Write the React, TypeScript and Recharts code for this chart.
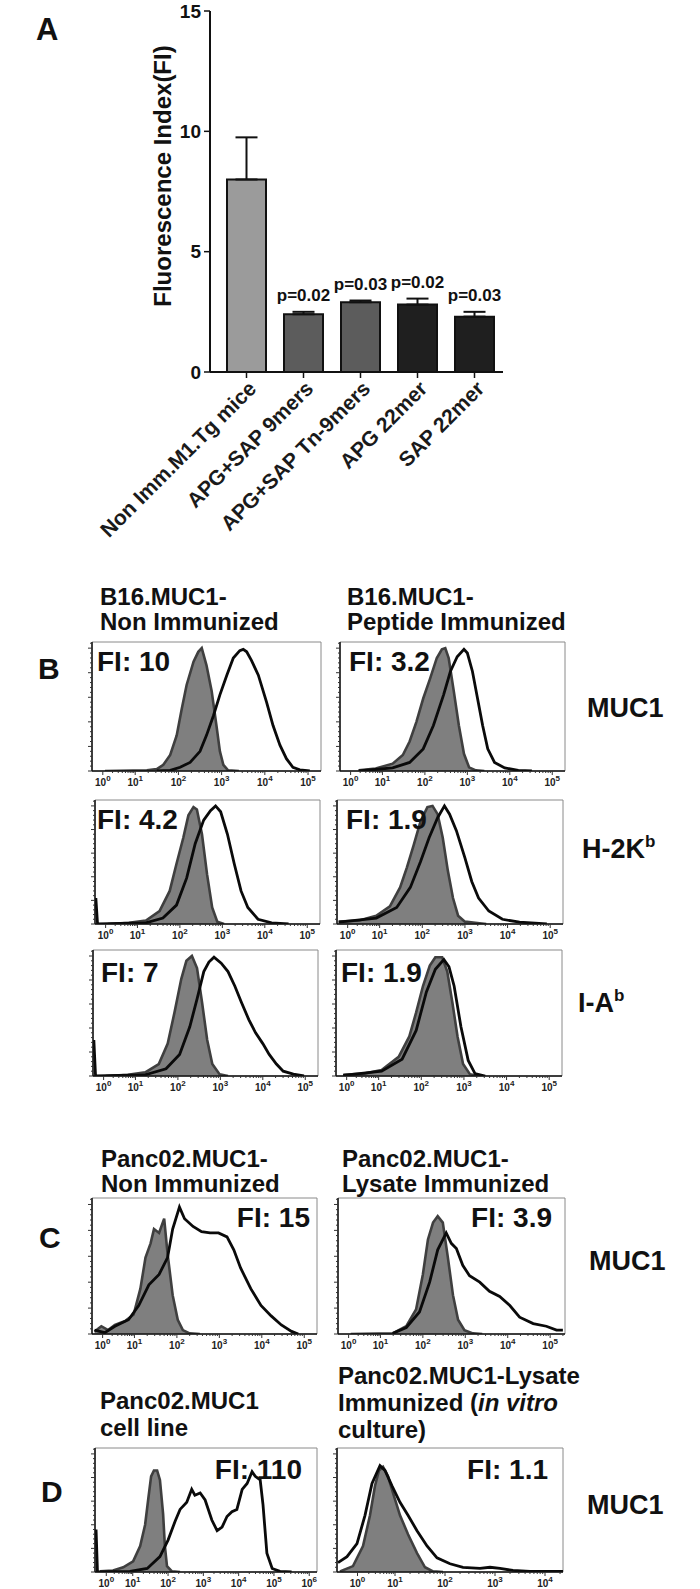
import React from 'react';
import {
  ComposedChart, Bar, Cell, ErrorBar, Line, LabelList, XAxis, YAxis, Area, ReferenceArea,
} from 'recharts';

const FONT = '"Liberation Sans", Arial, Helvetica, sans-serif';

// ---- panel A: fluorescence index per group
const groups = ['Non Imm.M1.Tg mice', 'APG+SAP 9mers', 'APG+SAP Tn-9mers', 'APG 22mer', 'SAP 22mer'];
const fiMean = [8.0, 2.4, 2.9, 2.8, 2.3];
const fiErr = [1.75, 0.1, 0.07, 0.25, 0.2];
const pLabels = ['', 'p=0.02', 'p=0.03', 'p=0.02', 'p=0.03'];
const fiTicks = [0, 5, 10, 15];
const barFills = ['#9b9b9b', '#5c5c5c', '#5c5c5c', '#1f1f1f', '#1f1f1f'];

// ---- flow histograms: [display position (decades), % of max]
const decadePos = [0.25, 1, 2, 3, 4, 5];
const decadeLbl = ['0', '1', '2', '3', '4', '5'];
const decadePosD1 = [0.25, 1, 2, 3, 4, 5, 6];
const decadeLblD1 = ['0', '1', '2', '3', '4', '5', '6'];
const decadePosD2 = [0.25, 1, 2, 3, 4];
const decadeLblD2 = ['0', '1', '2', '3', '4'];

const b16NonMuc1Iso = [[0.3, 0], [1.27, 0.5], [1.5, 1.5], [1.65, 5], [1.81, 13], [1.96, 29], [2.08, 51], [2.19, 70], [2.35, 89], [2.46, 97], [2.54, 100], [2.65, 86], [2.77, 65], [2.88, 37], [2.96, 16], [3.04, 5], [3.15, 0.5], [3.4, 0]];
const b16NonMuc1 = [[1.5, 0], [1.81, 0.5], [2.04, 3], [2.27, 7], [2.5, 16], [2.65, 29], [2.81, 45], [2.96, 62], [3.12, 78], [3.27, 92], [3.42, 98], [3.5, 99], [3.58, 97], [3.69, 90], [3.85, 78], [4.04, 56], [4.19, 37], [4.35, 21], [4.5, 10], [4.65, 3], [4.81, 1], [5.04, 0]];
const b16PepMuc1Iso = [[0.44, 0.5], [0.84, 2], [1.24, 6], [1.48, 13], [1.64, 24], [1.8, 40], [1.96, 59], [2.12, 75], [2.28, 92], [2.4, 99], [2.48, 100], [2.56, 92], [2.68, 65], [2.8, 37], [2.92, 14], [3.04, 3], [3.2, 0.5], [3.4, 0]];
const b16PepMuc1 = [[0.44, 0], [1.24, 2.5], [1.64, 7], [1.96, 18], [2.2, 37], [2.44, 62], [2.6, 81], [2.76, 93], [2.92, 99], [3.0, 96], [3.12, 81], [3.24, 59], [3.36, 37], [3.48, 18], [3.64, 7], [3.88, 2.5], [4.2, 0.5], [4.52, 0]];

const b16NonKbIso = [[0.3, 0], [0.8, 1], [1.2, 3], [1.52, 11], [1.76, 28], [1.92, 51], [2.08, 73], [2.2, 92], [2.32, 99], [2.4, 97], [2.52, 76], [2.64, 42], [2.76, 14], [2.88, 2], [3.04, 0]];
const b16NonKb = [[0.02, 22], [0.06, 0], [1.2, 1], [1.6, 5], [1.92, 16], [2.16, 39], [2.36, 68], [2.56, 88], [2.72, 96], [2.84, 100], [2.96, 95], [3.12, 76], [3.28, 51], [3.44, 28], [3.6, 14], [3.84, 4], [4.16, 1], [4.56, 0]];
const b16PepKbIso = [[0.04, 2], [0.52, 3], [0.92, 7], [1.24, 15], [1.48, 31], [1.64, 48], [1.8, 67], [1.96, 87], [2.12, 99], [2.24, 100], [2.36, 93], [2.48, 73], [2.6, 45], [2.72, 22], [2.84, 7], [3.0, 2], [3.24, 1], [3.5, 0]];
const b16PepKb = [[0.04, 1.5], [0.92, 5], [1.4, 14], [1.72, 31], [1.96, 53], [2.16, 73], [2.36, 90], [2.52, 100], [2.64, 93], [2.8, 79], [3.0, 56], [3.16, 36], [3.32, 22], [3.56, 11], [3.88, 4], [4.28, 1.5], [4.92, 0]];

const b16NonIaIso = [[0.3, 0], [0.82, 1], [1.23, 3], [1.55, 10], [1.76, 27], [1.92, 53], [2.08, 81], [2.2, 96], [2.33, 100], [2.45, 90], [2.57, 61], [2.69, 30], [2.81, 10], [2.98, 1.5], [3.18, 0]];
const b16NonIa = [[0.02, 30], [0.06, 0], [1.23, 1], [1.72, 6], [2.04, 18], [2.28, 41], [2.45, 64], [2.61, 87], [2.73, 95], [2.85, 99], [3.02, 94], [3.18, 87], [3.34, 75], [3.5, 61], [3.67, 47], [3.83, 36], [4.0, 27], [4.15, 18], [4.32, 10], [4.48, 4], [4.72, 1.5], [4.97, 0]];
const b16PepIaIso = [[0.17, 1], [0.66, 2], [1.07, 5], [1.47, 16], [1.72, 33], [1.88, 53], [2.04, 75], [2.2, 92], [2.33, 99], [2.49, 99], [2.61, 87], [2.73, 61], [2.85, 33], [2.98, 10], [3.14, 1.5], [3.34, 0]];
const b16PepIa = [[0.17, 0.5], [1.07, 4], [1.55, 14], [1.88, 38], [2.12, 70], [2.33, 89], [2.53, 97], [2.65, 91], [2.77, 75], [2.93, 41], [3.1, 13], [3.26, 2], [3.5, 0]];

const pancNonIso = [[0.06, 2], [0.22, 6], [0.38, 3], [0.54, 7], [0.78, 10], [0.98, 15], [1.14, 35], [1.26, 59], [1.38, 70], [1.46, 81], [1.58, 78], [1.7, 89], [1.78, 62], [1.9, 30], [2.02, 11], [2.14, 3], [2.3, 0.5], [2.54, 0]];
const pancNon = [[0.06, 3], [0.3, 1], [0.54, 6], [0.86, 11], [1.1, 22], [1.34, 38], [1.58, 46], [1.78, 59], [1.9, 81], [2.06, 98], [2.18, 89], [2.38, 83], [2.58, 79], [2.78, 78], [2.98, 78], [3.18, 75], [3.34, 65], [3.5, 51], [3.74, 35], [3.98, 22], [4.22, 14], [4.46, 7], [4.7, 2], [4.86, 0]];
const pancLysIso = [[0.3, 0], [1.29, 0.5], [1.61, 6], [1.84, 19], [2.0, 46], [2.12, 73], [2.24, 86], [2.35, 91], [2.47, 86], [2.59, 59], [2.71, 30], [2.83, 11], [2.98, 3], [3.18, 0.5], [3.4, 0]];
const pancLys = [[1.29, 0.5], [1.61, 5], [1.92, 17], [2.16, 40], [2.35, 65], [2.55, 78], [2.67, 70], [2.79, 66], [2.94, 53], [3.1, 45], [3.34, 40], [3.57, 33], [3.81, 29], [4.05, 22], [4.28, 13], [4.6, 8], [4.91, 6], [5.15, 3], [5.3, 3]];

const pancLineIso = [[0.07, 0.5], [0.44, 1.3], [0.73, 4], [1.01, 9], [1.21, 22], [1.35, 40], [1.44, 62], [1.52, 81], [1.6, 86], [1.69, 86], [1.77, 78], [1.86, 49], [1.91, 22], [1.97, 5], [2.11, 0.5], [2.34, 0]];
const pancLine = [[-0.04, 36], [0.0, 0], [0.92, 0.5], [1.41, 3], [1.77, 13], [2.0, 27], [2.2, 43], [2.34, 53], [2.53, 59], [2.67, 70], [2.76, 65], [2.91, 67], [3.05, 61], [3.24, 44], [3.39, 35], [3.53, 38], [3.67, 47], [3.81, 51], [3.95, 53], [4.1, 70], [4.24, 75], [4.38, 85], [4.47, 81], [4.61, 78], [4.69, 57], [4.8, 16], [4.95, 3], [5.17, 0.5], [5.5, 0]];
const pancVitroIso = [[-0.1, 0.5], [0.16, 5], [0.36, 22], [0.5, 48], [0.6, 73], [0.68, 86], [0.76, 89], [0.86, 81], [0.96, 67], [1.1, 48], [1.26, 32], [1.44, 16], [1.6, 4], [1.76, 0.5], [1.96, 0]];
const pancVitro = [[-0.14, 8], [0.04, 13], [0.24, 24], [0.4, 48], [0.54, 75], [0.7, 90], [0.8, 86], [0.94, 73], [1.1, 59], [1.26, 48], [1.44, 35], [1.64, 22], [1.84, 12], [2.1, 7], [2.36, 4], [2.7, 3], [2.9, 4], [3.1, 3], [3.36, 1.3], [3.7, 0.5], [4.36, 0.5]];

const toPts = (a: number[][]) => a.map(([x, y]) => ({ x, y }));

function minorTicks(pos: number[], max: number) {
  const out: number[] = [];
  for (let i = 0; i < pos.length; i++) {
    const step = i < pos.length - 1 ? pos[i + 1] - pos[i] : 1;
    for (let m = 2; m <= 9; m++) {
      const v = pos[i] + step * Math.log10(m);
      if (v < max) out.push(v);
    }
  }
  return out;
}

const yMajor = [0, 20, 40, 60, 80, 100];
const yAll = [0, 4, 8, 12, 16, 20, 24, 28, 32, 36, 40, 44, 48, 52, 56, 60, 64, 68, 72, 76, 80, 84, 88, 92, 96, 100, 104];

function Hist({ box, domain, pos, lbl, iso, stain }: any) {
  const xTicks = [...pos, ...minorTicks(pos, domain[1])];
  const XTick = (p: any) => {
    const i = pos.indexOf(p.payload.value);
    const major = i >= 0;
    return (
      <g>
        <line x1={p.x} x2={p.x} y1={p.y} y2={p.y + (major ? 4 : 2)} stroke="#333" strokeWidth={1} />
        {major && (
          <text x={p.x} y={p.y + 15} textAnchor="middle" fontSize={10} fontWeight="bold" fill="#222">
            10<tspan dy={-5} fontSize={8}>{lbl[i]}</tspan>
          </text>
        )}
      </g>
    );
  };
  const YTick = (p: any) => {
    const major = yMajor.includes(p.payload.value);
    return <line x1={p.x} x2={p.x - (major ? 4 : 2)} y1={p.y} y2={p.y} stroke="#333" strokeWidth={1} />;
  };
  return (
    <div style={{ position: 'absolute', left: box.x - 10, top: box.y - 2 }}>
      <ComposedChart width={box.w + 12} height={box.h + 24} margin={{ top: 2, right: 2, bottom: 0, left: 0 }}>
        <ReferenceArea x1={domain[0]} x2={domain[1]} y1={0} y2={105} fill="none" stroke="#8a8a8a" strokeWidth={1} ifOverflow="visible" />
        <XAxis dataKey="x" type="number" domain={domain} allowDataOverflow ticks={xTicks} interval={0}
          height={22} tickSize={0} tickMargin={0} tickLine={false} tick={XTick} axisLine={{ stroke: '#111', strokeWidth: 1.5 }} />
        <YAxis type="number" domain={[0, 105]} allowDataOverflow ticks={yAll} interval={0}
          width={10} tickSize={0} tickMargin={0} tickLine={false} tick={YTick} axisLine={{ stroke: '#111', strokeWidth: 1.5 }} />
        <Area data={toPts(iso)} dataKey="y" type="linear" fill="#7f7f7f" fillOpacity={1} stroke="#3f3f3f" strokeWidth={2.6} isAnimationActive={false} />
        <Line data={toPts(stain)} dataKey="y" type="linear" stroke="#0a0a0a" strokeWidth={2.8} dot={false} activeDot={false} isAnimationActive={false} />
      </ComposedChart>
    </div>
  );
}

const CatTick = (p: any) => (
  <text x={p.x + 11} y={p.y + 10} transform={`rotate(-45, ${p.x + 11}, ${p.y + 10})`} textAnchor="end"
    fontSize={21} fontWeight="bold" fill="#1a1a1a">{p.payload.value}</text>
);

const barData = groups.map((g, i) => ({ name: g, mean: fiMean[i], err: [0, fiErr[i]], top: fiMean[i] + fiErr[i], p: pLabels[i] }));

const panels = [
  { box: { x: 92, y: 642, w: 229, h: 129 }, domain: [0, 5.3], pos: decadePos, lbl: decadeLbl, iso: b16NonMuc1Iso, stain: b16NonMuc1 },
  { box: { x: 340, y: 642, w: 225, h: 129 }, domain: [0, 5.3], pos: decadePos, lbl: decadeLbl, iso: b16PepMuc1Iso, stain: b16PepMuc1 },
  { box: { x: 95, y: 800, w: 225, h: 124 }, domain: [0, 5.3], pos: decadePos, lbl: decadeLbl, iso: b16NonKbIso, stain: b16NonKb },
  { box: { x: 337, y: 800, w: 226, h: 124 }, domain: [0, 5.3], pos: decadePos, lbl: decadeLbl, iso: b16PepKbIso, stain: b16PepKb },
  { box: { x: 93, y: 950, w: 225, h: 126 }, domain: [0, 5.3], pos: decadePos, lbl: decadeLbl, iso: b16NonIaIso, stain: b16NonIa },
  { box: { x: 336, y: 950, w: 226, h: 126 }, domain: [0, 5.3], pos: decadePos, lbl: decadeLbl, iso: b16PepIaIso, stain: b16PepIa },
  { box: { x: 92, y: 1198, w: 225, h: 136 }, domain: [0, 5.3], pos: decadePos, lbl: decadeLbl, iso: pancNonIso, stain: pancNon },
  { box: { x: 338, y: 1198, w: 227, h: 136 }, domain: [0, 5.35], pos: decadePos, lbl: decadeLbl, iso: pancLysIso, stain: pancLys },
  { box: { x: 95, y: 1448, w: 222, h: 124 }, domain: [-0.07, 6.22], pos: decadePosD1, lbl: decadeLblD1, iso: pancLineIso, stain: pancLine },
  { box: { x: 337, y: 1448, w: 226, h: 124 }, domain: [-0.16, 4.36], pos: decadePosD2, lbl: decadeLblD2, iso: pancVitroIso, stain: pancVitro },
];

const T = (props: any) => <text fontWeight="bold" fill="#111" {...props} />;

export default function App() {
  return (
    <div style={{ position: 'absolute', left: 0, top: 0, width: 700, height: 1589, background: '#fff', fontFamily: FONT }}>
      <div style={{ position: 'absolute', left: 0, top: 0 }}>
        <ComposedChart width={700} height={560} data={barData} margin={{ top: 11, right: 197, left: 150, bottom: 0 }}>
          <XAxis dataKey="name" type="category" interval={0} height={188} tickSize={6} tick={CatTick} padding={{ left: 8, right: 0 }}
            axisLine={{ stroke: '#111', strokeWidth: 2 }} tickLine={{ stroke: '#111', strokeWidth: 1.5 }} />
          <YAxis type="number" domain={[0, 15]} ticks={fiTicks} width={60} tickSize={6} tickMargin={3}
            axisLine={{ stroke: '#111', strokeWidth: 2 }} tickLine={{ stroke: '#111', strokeWidth: 1.5 }}
            tick={{ fontSize: 19, fontWeight: 'bold', fill: '#111' }} />
          <Bar dataKey="mean" barSize={39} stroke="#111" strokeWidth={2} isAnimationActive={false}>
            {barData.map((d, i) => <Cell key={d.name} fill={barFills[i]} />)}
            <ErrorBar dataKey="err" direction="y" width={11} stroke="#111" strokeWidth={2} />
          </Bar>
          <Line dataKey="top" stroke="none" dot={false} activeDot={false} isAnimationActive={false}>
            <LabelList dataKey="p" position="top" offset={11} fontSize={17} fontWeight="bold" fill="#111" />
          </Line>
        </ComposedChart>
      </div>

      {panels.map((p, i) => <Hist key={i} {...p} />)}

      <svg width={700} height={1589} style={{ position: 'absolute', left: 0, top: 0, pointerEvents: 'none' }}>
        <T x={36} y={40} fontSize={31}>A</T>
        <T x={0} y={0} fontSize={24} textAnchor="middle" transform="translate(171,176) rotate(-90)">Fluorescence Index(FI)</T>

        <T x={100} y={605} fontSize={24}>B16.MUC1-</T>
        <T x={100} y={630} fontSize={24}>Non Immunized</T>
        <T x={347} y={605} fontSize={24}>B16.MUC1-</T>
        <T x={347} y={630} fontSize={24}>Peptide Immunized</T>
        <T x={38} y={679} fontSize={30}>B</T>
        <T x={97} y={671} fontSize={28}>FI: 10</T>
        <T x={349} y={671} fontSize={28}>FI: 3.2</T>
        <T x={97} y={829} fontSize={28}>FI: 4.2</T>
        <T x={346} y={829} fontSize={28}>FI: 1.9</T>
        <T x={101} y={982} fontSize={28}>FI: 7</T>
        <T x={341} y={982} fontSize={28}>FI: 1.9</T>
        <T x={587} y={717} fontSize={27}>MUC1</T>
        <T x={582} y={858} fontSize={27}>H-2K<tspan dy={-11} fontSize={17}>b</tspan></T>
        <T x={578} y={1012} fontSize={27}>I-A<tspan dy={-11} fontSize={17}>b</tspan></T>

        <T x={101} y={1167} fontSize={24}>Panc02.MUC1-</T>
        <T x={101} y={1192} fontSize={24}>Non Immunized</T>
        <T x={342} y={1167} fontSize={24}>Panc02.MUC1-</T>
        <T x={342} y={1192} fontSize={24}>Lysate Immunized</T>
        <T x={39} y={1248} fontSize={30}>C</T>
        <T x={310} y={1227} fontSize={28} textAnchor="end">FI: 15</T>
        <T x={552} y={1227} fontSize={28} textAnchor="end">FI: 3.9</T>
        <T x={589} y={1270} fontSize={27}>MUC1</T>

        <T x={100} y={1409} fontSize={24}>Panc02.MUC1</T>
        <T x={100} y={1436} fontSize={24}>cell line</T>
        <T x={338} y={1384} fontSize={24}>Panc02.MUC1-Lysate</T>
        <T x={338} y={1411} fontSize={24}>Immunized (<tspan fontStyle="italic">in vitro</tspan></T>
        <T x={338} y={1438} fontSize={24}>culture)</T>
        <T x={41} y={1502} fontSize={30}>D</T>
        <T x={302} y={1479} fontSize={28} textAnchor="end">FI: 110</T>
        <T x={548} y={1479} fontSize={28} textAnchor="end">FI: 1.1</T>
        <T x={587} y={1514} fontSize={27}>MUC1</T>
      </svg>
    </div>
  );
}
